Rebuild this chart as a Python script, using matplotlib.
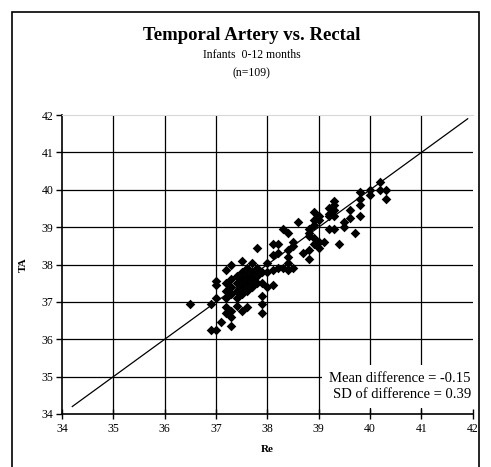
import matplotlib.pyplot as plt
from matplotlib.patches import Rectangle

# Rectal (Re) vs temporal artery (TA) readings
re = [36.5, 36.9, 36.9, 37.0, 37.0, 37.0, 37.0, 37.1, 37.2, 37.2,
      37.3, 37.3, 37.3, 37.4, 37.5, 37.6, 37.9, 37.9, 37.9, 38.0,
      38.1, 37.2, 37.2, 37.2, 37.2, 37.3, 37.3, 37.3, 37.3, 37.4,
      37.4, 37.4, 37.4, 37.5, 37.5, 37.5, 37.5, 37.5, 37.6, 37.6,
      37.6, 37.6, 37.7, 37.7, 37.7, 37.7, 37.8, 37.8, 37.8, 37.8,
      37.9, 37.9, 38.0, 38.0, 38.1, 38.1, 38.2, 38.2, 38.2, 38.1,
      38.3, 38.4, 38.4, 38.4, 38.4, 38.3, 38.4, 38.5, 38.5, 38.5,
      38.6, 38.7, 38.8, 38.8, 38.8, 38.8, 38.8, 38.9, 38.9, 38.9,
      38.9, 38.9, 39.0, 39.0, 39.1, 39.0, 39.0, 39.2, 39.2, 39.2,
      39.2, 39.3, 39.3, 39.3, 39.3, 39.3, 39.4, 39.5, 39.5, 39.6,
      39.6, 39.7, 39.8, 39.8, 39.8, 39.8, 40.0, 40.0, 40.2, 40.2,
      40.3, 40.3]
ta = [36.95, 36.95, 36.25, 36.25, 37.1, 37.45, 37.55, 36.45, 36.85, 36.7,
      36.75, 36.6, 36.35, 36.9, 36.75, 36.85, 37.15, 36.95, 36.7, 37.4,
      37.45, 37.5, 37.3, 37.1, 37.85, 37.6, 37.4, 38.0, 37.2, 37.5,
      37.7, 37.3, 37.1, 37.6, 37.4, 37.8, 38.1, 37.2, 37.5, 37.7,
      37.3, 37.9, 37.6, 37.8, 37.4, 38.05, 37.7, 37.5, 37.9, 38.45,
      37.8, 37.5, 38.05, 37.8, 38.25, 38.55, 38.55, 38.3, 37.9, 37.85,
      38.95, 38.85, 38.4, 38.2, 38.05, 37.9, 37.85, 37.9, 38.6, 38.5,
      39.15, 38.3, 38.4, 38.15, 38.95, 38.85, 38.75, 39.4, 39.2, 39.05,
      38.7, 38.55, 38.6, 38.45, 38.6, 39.3, 39.2, 39.5, 39.35, 39.3,
      38.95, 39.7, 39.6, 39.45, 39.3, 38.95, 38.55, 39.0, 39.15, 39.25,
      39.45, 38.85, 39.95, 39.75, 39.6, 39.3, 40.0, 39.85, 40.2, 40.0,
      40.0, 39.75]
ticks = [34, 35, 36, 37, 38, 39, 40, 41, 42]
line_ends = [34.2, 41.9]
mean_diff = -0.15
sd_diff = 0.39

serif = ['Liberation Serif', 'DejaVu Serif']
plt.rcParams['font.family'] = serif

fig = plt.figure(figsize=(4.91, 4.67), dpi=100)
ax = fig.add_axes([0.1263, 0.1135, 0.8367, 0.6402])

# outer frame of the chart area
fig.patches.append(Rectangle((0.0244, -0.02), 0.9512, 0.994, transform=fig.transFigure,
                             fill=False, edgecolor='black', linewidth=1.2))

ax.set_xlim(34, 42)
ax.set_ylim(34, 42)
ax.set_xticks(ticks)
ax.set_yticks(ticks)

# grid only on the inner ticks
for t in ticks[1:-1]:
    ax.axvline(t, color='black', linewidth=0.9, zorder=1)
    ax.axhline(t, color='black', linewidth=0.9, zorder=1)

ax.plot(line_ends, line_ends, color='black', linewidth=0.9, zorder=2)
ax.scatter(re, ta, marker='D', s=24, color='black', zorder=3, linewidths=0)

ax.spines['right'].set_visible(False)
ax.spines['top'].set_color('#d8d8d8')
ax.spines['left'].set_linewidth(1.2)
ax.spines['bottom'].set_linewidth(1.2)
ax.tick_params(axis='x', direction='inout', length=7, width=1, labelsize=8.5, pad=3)
ax.tick_params(axis='y', direction='out', length=4, width=1, labelsize=8.5, pad=2)

ax.set_xlabel('Re', fontsize=8, fontweight='bold', labelpad=7)
ax.set_ylabel('TA', fontsize=8, fontweight='bold', labelpad=10)

ax.text(0.995, 0.045, f'Mean difference = {mean_diff}\nSD of difference = {sd_diff}',
        transform=ax.transAxes, ha='right', va='bottom', fontsize=10.5,
        linespacing=1.25, zorder=4,
        bbox=dict(facecolor='white', edgecolor='none', pad=5))

fig.text(0.513, 0.925, 'Temporal Artery vs. Rectal', ha='center', va='center',
         fontsize=13.5, fontweight='bold')
fig.text(0.513, 0.882, 'Infants  0-12 months', ha='center', va='center', fontsize=8.5)
fig.text(0.513, 0.844, '(n=109)', ha='center', va='center', fontsize=8.5)

fig.savefig('out.png', dpi=100)
